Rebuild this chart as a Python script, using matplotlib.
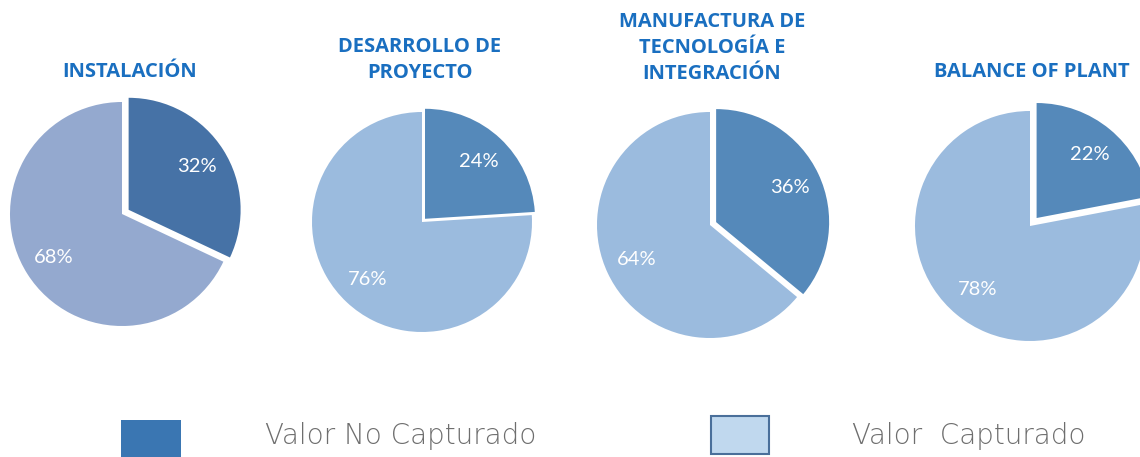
import numpy as np
import matplotlib
matplotlib.use("Agg")
import matplotlib.pyplot as plt
from matplotlib.patches import Rectangle

# donnees
titres = ["INSTALACIÓN", "DESARROLLO DE\nPROYECTO", "MANUFACTURA DE\nTECNOLOGÍA E\nINTEGRACIÓN", "BALANCE OF PLANT"]
no_capturado = [32, 24, 36, 22]
capturado = [68, 76, 64, 78]
etiquetas_leg = ["Valor No Capturado", "Valor  Capturado"]

# position (px) de chaque camembert : centre x, centre y, rayon, explode
centres = [(122, 214, 112, 0.07), (422, 222, 110, 0.04), (710, 225, 113, 0.06), (1030, 226, 115, 0.09)]
couleurs = [("#4672a6", "#94a9cf"), ("#5589ba", "#9bbbde"), ("#5589ba", "#9bbbde"), ("#5589ba", "#9bbbde")]

W, H = 1140, 457
fig = plt.figure(figsize=(W/100, H/100), dpi=100)
fig.patch.set_facecolor("white")

def px_axes(cx, cy, r, m=1.3):
    ax = fig.add_axes([(cx - m*r)/W, 1 - (cy + m*r)/H, 2*m*r/W, 2*m*r/H])
    ax.set_xlim(-m, m)
    ax.set_ylim(-m, m)
    ax.axis("off")
    return ax

for i in range(4):
    cx, cy, r, ex = centres[i]
    ax = px_axes(cx, cy, r)
    vals = [no_capturado[i], capturado[i]]
    w, t, a = ax.pie(vals, colors=couleurs[i], startangle=90, counterclock=False,
                     explode=[ex, 0], autopct="%d%%", pctdistance=0.72, radius=1,
                     textprops=dict(color="white", fontsize=14.5, family="Lato"))
    ax.set_xlim(-1.3, 1.3)
    ax.set_ylim(-1.3, 1.3)

# titres
pos_titres = [(130, 72), (420, 60), (712, 48), (1032, 72)]
for (x, y), txt in zip(pos_titres, titres):
    fig.text(x/W, 1 - y/H, txt, ha="center", va="center", color="#1a6fc0",
             fontsize=14.5, fontweight="bold", family="Open Sans", linespacing=1.38)

# legende
fig.patches.append(Rectangle((121/W, 0), 60/W, 37/H, transform=fig.transFigure,
                             facecolor="#3a76b2", edgecolor="none"))
fig.patches.append(Rectangle((711/W, 1 - 454/H), 58/W, 38/H, transform=fig.transFigure,
                             facecolor="#c0d8ee", edgecolor="#4a6f9a", linewidth=1.5))
fig.text(265/W, 1 - 436/H, etiquetas_leg[0], ha="left", va="center", color="#6e6e6e",
         fontsize=20, family="DejaVu Sans", fontweight="light")
fig.text(852/W, 1 - 436/H, etiquetas_leg[1], ha="left", va="center", color="#6e6e6e",
         fontsize=20, family="DejaVu Sans", fontweight="light")

plt.savefig("out.png", dpi=100)
